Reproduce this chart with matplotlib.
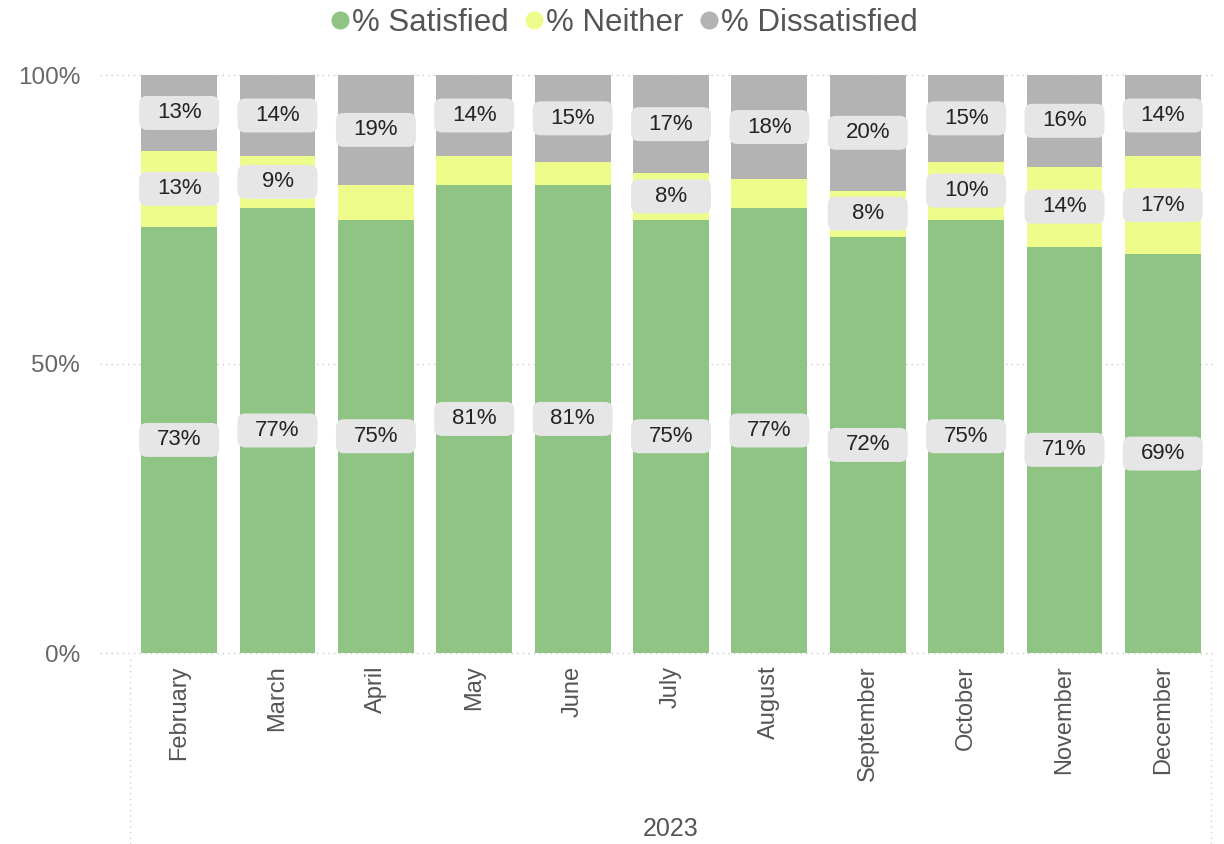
import numpy as np
import matplotlib
matplotlib.use("Agg")
import matplotlib.pyplot as plt
from matplotlib.patches import FancyBboxPatch
from matplotlib.lines import Line2D

plt.rcParams["font.family"] = ["Liberation Sans", "DejaVu Sans"]

# survey results per month, in percent
months = ["February", "March", "April", "May", "June", "July", "August",
          "September", "October", "November", "December"]
satisfied = [73, 77, 75, 81, 81, 75, 77, 72, 75, 71, 69]
neither = [13, 9, 6, 5, 4, 8, 5, 8, 10, 14, 17]
dissatisfied = [13, 14, 19, 14, 15, 17, 18, 20, 15, 16, 14]
year_label = "2023"

series_names = ["% Satisfied", "% Neither", "% Dissatisfied"]
colors = ["#8fc485", "#eefc8c", "#b3b3b3"]

# labels smaller than this are hidden (no room in the segment)
MIN_LABEL = 7

W, H = 1224, 844
fig = plt.figure(figsize=(W / 100, H / 100), dpi=100)
ax = fig.add_axes([130 / W, 1 - 653 / H, 1082 / W, 578 / H])

vals = np.array([satisfied, neither, dissatisfied], dtype=float)
totals = vals.sum(axis=0)
shares = vals / totals * 100  # 100% stacked

x = np.arange(len(months))
bar_w = 0.77
bottom = np.zeros(len(months))
for k in range(3):
    ax.bar(x, shares[k], bottom=bottom, width=bar_w, color=colors[k],
           edgecolor="none", zorder=2)
    bottom += shares[k]

# data labels on grey rounded tags
px_x = 1082 / 11.0
px_y = 578 / 100.0
box_w = 80 / px_x
box_h = 34 / px_y
aspect = (1 / px_y) / (1 / px_x)
bottom = np.zeros(len(months))
for k in range(3):
    for i in range(len(months)):
        v = vals[k, i]
        yc = bottom[i] + shares[k, i] / 2
        if v >= MIN_LABEL:
            patch = FancyBboxPatch((x[i] - box_w / 2, yc - box_h / 2), box_w, box_h,
                                   boxstyle="round,pad=0,rounding_size=0.08",
                                   mutation_aspect=aspect,
                                   facecolor="#e6e6e6", edgecolor="none", zorder=3)
            ax.add_patch(patch)
            ax.text(x[i], yc, f"{int(v)}%", ha="center", va="center",
                    fontsize=16, color="#252423", zorder=4)
    bottom += shares[k]

ax.set_xlim(-0.5, len(months) - 0.5)
ax.set_ylim(0, 100)

# dotted gridlines reaching a bit left of the plot
for g in [0, 50, 100]:
    ax.plot([-0.5 - 30 / px_x, len(months) - 0.5 + 4 / px_x], [g, g],
            color="#c8c8c8", lw=1, ls=(0, (1, 3)), zorder=1, clip_on=False)

for s in ax.spines.values():
    s.set_visible(False)
ax.set_yticks([0, 50, 100])
ax.set_yticklabels(["0%", "50%", "100%"], fontsize=17.5, color="#666666")
ax.tick_params(axis="y", length=0, pad=36)
ax.set_xticks(x)
ax.set_xticklabels(months, rotation=90, fontsize=17, color="#555555")
ax.tick_params(axis="x", length=0, pad=9)

# dotted separators around the year group on the category axis
for xf in [130 / W, 1211 / W]:
    fig.add_artist(Line2D([xf, xf], [0, 1 - 655 / H], transform=fig.transFigure,
                          color="#d0d0d0", lw=1, ls=(0, (1, 3))))
fig.text(671 / W, 1 - 829 / H, year_label, ha="center", va="center",
         fontsize=18, color="#555555")

# legend
handles = [Line2D([], [], marker="o", ls="none", markersize=13,
                  markerfacecolor=c, markeredgecolor="none") for c in colors]
fig.legend(handles, series_names, loc="center", bbox_to_anchor=(621 / W, 1 - 23 / H),
           ncol=3, frameon=False, fontsize=22.5, handletextpad=-0.1,
           columnspacing=0.3, labelcolor="#555555", handlelength=1.0)

fig.savefig("out.png", dpi=100, facecolor="white")
